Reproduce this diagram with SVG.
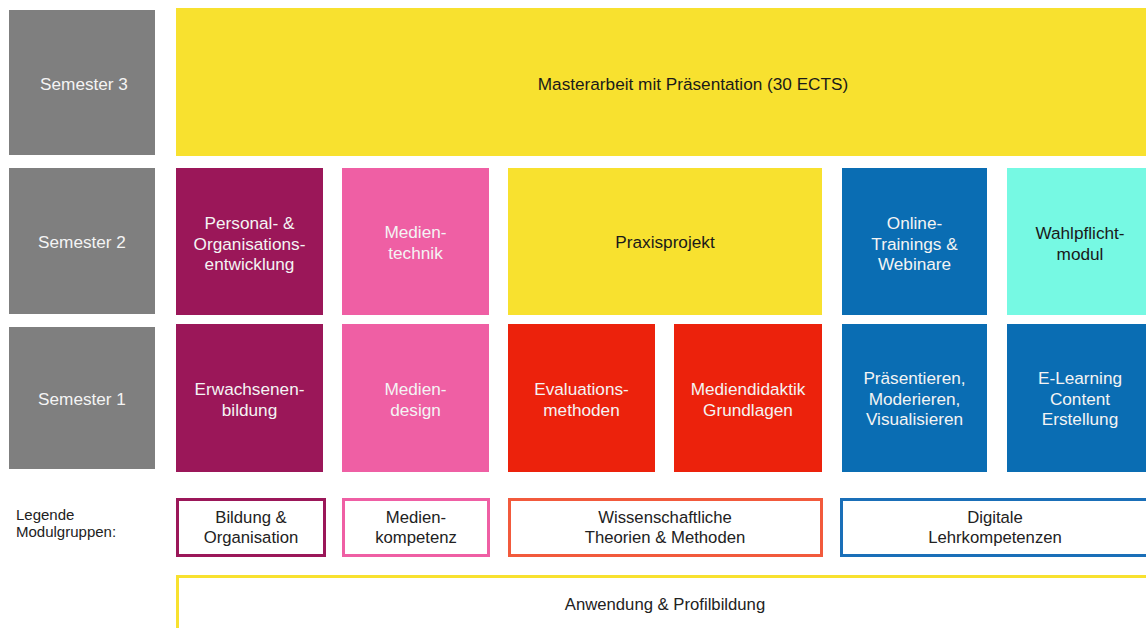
<svg xmlns="http://www.w3.org/2000/svg" width="1146" height="628" viewBox="0 0 1146 628">
<style>
text{font-family:"Liberation Sans",Arial,sans-serif;text-anchor:middle}
.t{font-size:17.2px;fill:#f4f4f4}
.d{font-size:17.2px;fill:#1a1a1a}
.l{font-size:16.7px;fill:#222}
.sem{fill:#7f7f7f}
.yel{fill:#f8e12f}
.pur{fill:#9b1759}
.pnk{fill:#ef5fa4}
.red{fill:#ec220c}
.blu{fill:#0a6db3}
.tea{fill:#76f9e3}
.lg{fill:#fff;stroke-width:3}
</style>
<rect width="1146" height="628" fill="#fff"/>
<g id="sem3"><rect class="sem" x="9" y="10" width="146" height="145"/><text class="t" x="84" y="90">Semester 3</text></g>
<g id="sem2"><rect class="sem" x="9" y="168" width="146" height="146"/><text class="t" x="82" y="248">Semester 2</text></g>
<g id="sem1"><rect class="sem" x="9" y="327" width="146" height="142"/><text class="t" x="82" y="405">Semester 1</text></g>

<g id="masterarbeit"><rect class="yel" x="176" y="8" width="970" height="148"/><text class="d" x="693" y="90">Masterarbeit mit Präsentation (30 ECTS)</text></g>

<g id="personal"><rect class="pur" x="176" y="168" width="147" height="147"/><text class="t" x="249.5" y="229">Personal- &amp;</text><text class="t" x="249.5" y="249.5">Organisations-</text><text class="t" x="249.5" y="270">entwicklung</text></g>
<g id="medientechnik"><rect class="pnk" x="342" y="168" width="147" height="147"/><text class="t" x="415.5" y="238">Medien-</text><text class="t" x="415.5" y="258.5">technik</text></g>
<g id="praxisprojekt"><rect class="yel" x="508" y="168" width="314" height="147"/><text class="d" x="665" y="248">Praxisprojekt</text></g>
<g id="online"><rect class="blu" x="842" y="168" width="145" height="147"/><text class="t" x="914.5" y="229">Online-</text><text class="t" x="914.5" y="249.5">Trainings &amp;</text><text class="t" x="914.5" y="270">Webinare</text></g>
<g id="wahlpflicht"><rect class="tea" x="1007" y="168" width="139" height="147"/><text class="d" x="1080" y="239">Wahlpflicht-</text><text class="d" x="1080" y="259.5">modul</text></g>

<g id="erwachsenen"><rect class="pur" x="176" y="324" width="147" height="148"/><text class="t" x="249.5" y="395">Erwachsenen-</text><text class="t" x="249.5" y="415.5">bildung</text></g>
<g id="mediendesign"><rect class="pnk" x="342" y="324" width="147" height="148"/><text class="t" x="415.5" y="395">Medien-</text><text class="t" x="415.5" y="415.5">design</text></g>
<g id="evaluation"><rect class="red" x="508" y="324" width="147" height="148"/><text class="t" x="581.5" y="395">Evaluations-</text><text class="t" x="581.5" y="415.5">methoden</text></g>
<g id="mediendidaktik"><rect class="red" x="674" y="324" width="148" height="148"/><text class="t" x="748" y="395">Mediendidaktik</text><text class="t" x="748" y="415.5">Grundlagen</text></g>
<g id="praesentieren"><rect class="blu" x="842" y="324" width="145" height="148"/><text class="t" x="914.5" y="384">Präsentieren,</text><text class="t" x="914.5" y="404.5">Moderieren,</text><text class="t" x="914.5" y="425">Visualisieren</text></g>
<g id="elearning"><rect class="blu" x="1007" y="324" width="139" height="148"/><text class="t" x="1080" y="384">E-Learning</text><text class="t" x="1080" y="404.5">Content</text><text class="t" x="1080" y="425">Erstellung</text></g>

<g id="legende"><text x="16" y="520" style="font-size:15px;fill:#222;text-anchor:start">Legende</text><text x="16" y="537" style="font-size:15px;fill:#222;text-anchor:start">Modulgruppen:</text></g>
<g id="lg-bildung"><rect class="lg" x="177.5" y="499.5" width="147" height="56" stroke="#9b1759"/><text class="l" x="251" y="523">Bildung &amp;</text><text class="l" x="251" y="543">Organisation</text></g>
<g id="lg-medien"><rect class="lg" x="343.5" y="499.5" width="145" height="56" stroke="#ef5fa4"/><text class="l" x="416" y="523">Medien-</text><text class="l" x="416" y="543">kompetenz</text></g>
<g id="lg-wiss"><rect class="lg" x="509.5" y="499.5" width="312" height="56" stroke="#f25a3c"/><text class="l" x="665" y="523">Wissenschaftliche</text><text class="l" x="665" y="543">Theorien &amp; Methoden</text></g>
<g id="lg-digital"><rect class="lg" x="841.5" y="499.5" width="320" height="56" stroke="#1a6fb8"/><text class="l" x="995" y="523">Digitale</text><text class="l" x="995" y="543">Lehrkompetenzen</text></g>
<g id="lg-anwendung"><rect class="lg" x="177.5" y="576.5" width="990" height="70" stroke="#f8e12f"/><text class="l" x="665" y="610">Anwendung &amp; Profilbildung</text></g>
<g id="connectors"/>
</svg>
